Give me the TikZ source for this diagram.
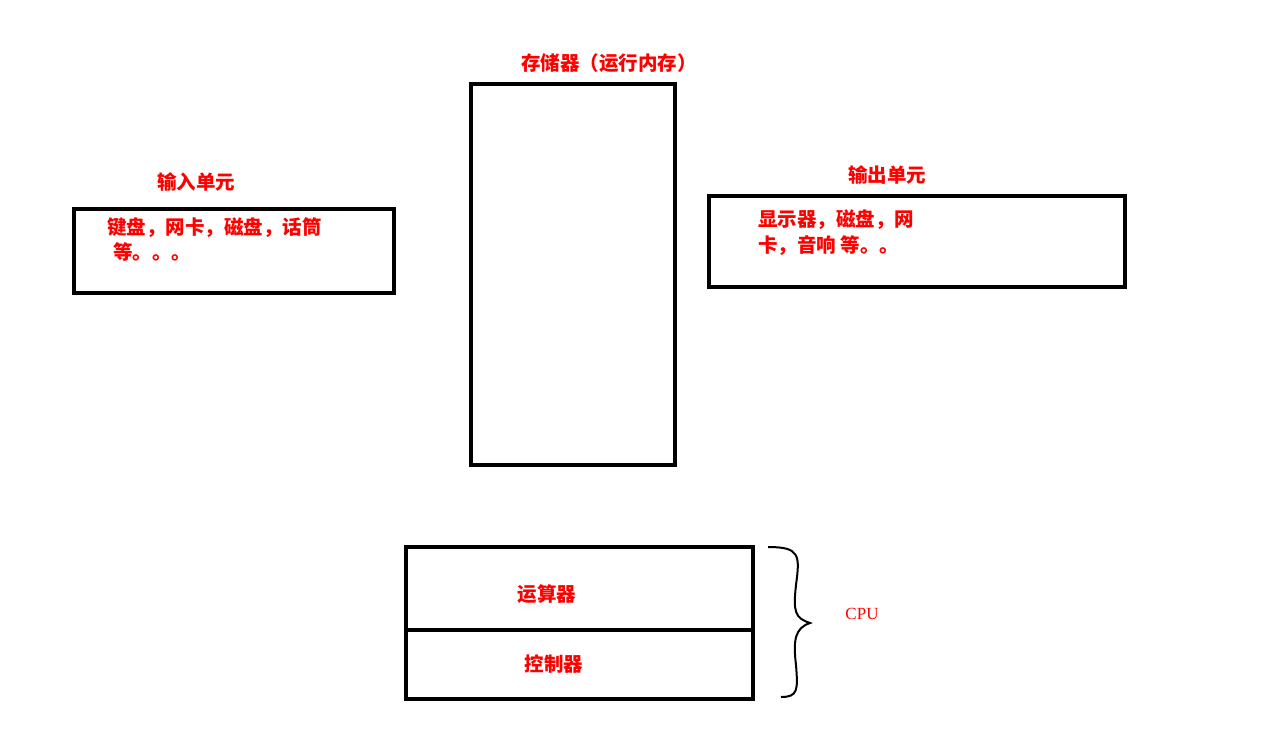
\documentclass[tikz,border=0pt]{standalone}
\usepackage{fontspec}
\newfontfamily\cjk{Noto Sans CJK SC}
\setmainfont{Liberation Serif}
\tikzset{box/.style={draw,line width=4pt},
lbl/.style={text=red,font=\cjk\bfseries\fontsize{19.5pt}{22pt}\selectfont,inner sep=0pt}}
\begin{document}
\begin{tikzpicture}[x=1pt,y=-1pt]
\useasboundingbox[fill=white] (0,0) rectangle (1286,748);
\node[box,minimum width=204pt,minimum height=381pt] (mem) at (573,274.5) {};
\node[lbl] (meml) at (609,63) {存储器（运行内存）};
\node[box,minimum width=320pt,minimum height=84pt] (in) at (234,251) {};
\node[lbl] (inl) at (196,182) {输入单元};
\node[lbl,anchor=west] (in1) at (107,228) {键盘，网卡，磁盘，话筒};
\node[lbl,anchor=west] (in2) at (113,252) {等。。。};
\node[box,minimum width=416pt,minimum height=91pt] (out) at (917,241.5) {};
\node[lbl] (outl) at (887,175) {输出单元};
\node[lbl,anchor=west] (out1) at (758,220) {显示器，磁盘，网};
\node[lbl,anchor=west] (out2) at (758,246) {卡，音响 等。。};
\node[box,minimum width=347pt,minimum height=152pt] (cpu) at (579.5,623) {};
\draw[line width=4pt] (cpu.west |- 0,630) -- (cpu.east |- 0,630);
\node[lbl] (alu) at (547,594) {运算器};
\node[lbl] (cu) at (554,664) {控制器};
\draw[line width=2pt] (768,547) .. controls (800,547) and (800,555) .. (796,585) .. controls (793,612) and (795,618) .. (810,623) .. controls (795,628) and (793,640) .. (796,665) .. controls (798,690) and (798,697) .. (781,697);
\node[text=red,font=\fontsize{17pt}{19pt}\selectfont] (c) at (862,614) {CPU};
\end{tikzpicture}
\end{document}
